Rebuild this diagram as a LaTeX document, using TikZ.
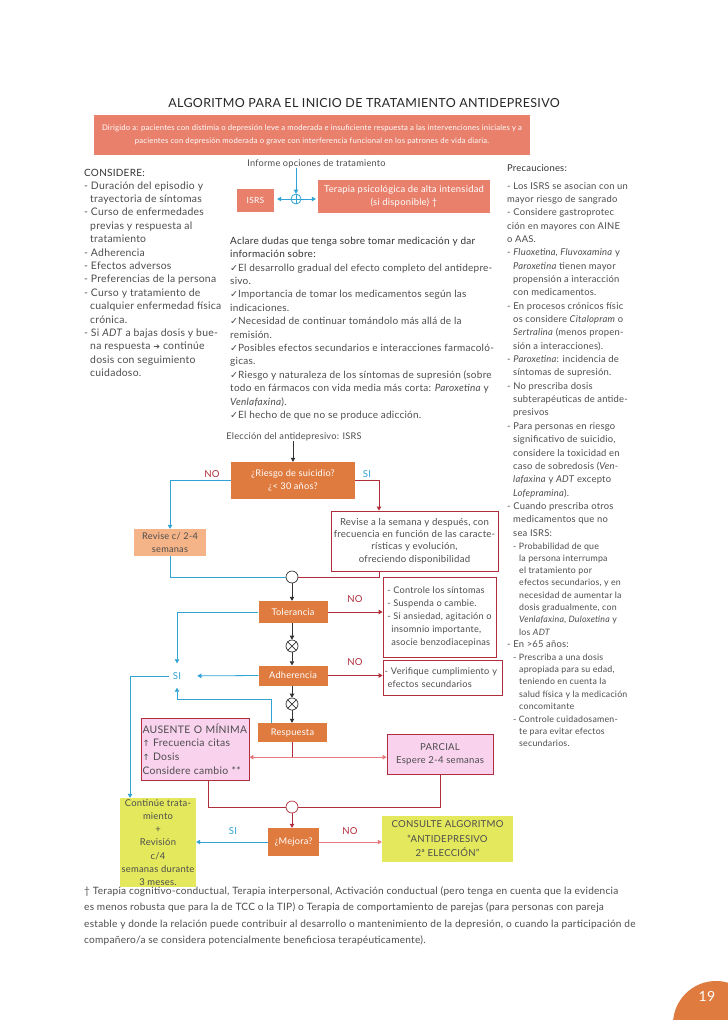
\documentclass[tikz,border=0pt]{standalone}
\usepackage{fontspec}
\setmainfont{Lato}[LetterSpace=2.5]
\newfontfamily\symf{DejaVu Sans}
\usetikzlibrary{arrows.meta}
\definecolor{txt}{HTML}{4D4D4D}
\definecolor{salmon}{HTML}{E8806C}
\definecolor{orng}{HTML}{DF7B3F}
\definecolor{lorng}{HTML}{F5B388}
\definecolor{bluel}{HTML}{2FA3D3}
\definecolor{dred}{HTML}{B02E3B}
\definecolor{redl}{HTML}{E8797C}
\definecolor{pinkf}{HTML}{F9D2EE}
\definecolor{limef}{HTML}{E3E85D}
\definecolor{grayl}{HTML}{333333}
\newcommand{\tb}[2]{\parbox[t]{#1}{\raggedright #2}}
\newcommand{\ck}{{\symf\fontsize{9.5}{9}\selectfont ✓}}
\newcommand{\upar}{{\symf\fontsize{8.5}{8}\selectfont ↑}}
\begin{document}
\begin{tikzpicture}[x=1pt,y=-1pt,
  every node/.style={text=txt},
  tip/.style={-{Triangle[length=4pt,width=4.5pt]}},
  body/.style={anchor=base west,inner sep=0pt,font=\fontsize{10}{13.4}\selectfont},
  rcol/.style={anchor=base west,inner sep=0pt,font=\fontsize{9.4}{13.35}\selectfont},
  small/.style={anchor=base west,inner sep=0pt,font=\fontsize{8.8}{12.3}\selectfont},
  obox/.style={rectangle,fill=orng,text=white,inner sep=0pt,align=center,font=\fontsize{9.2}{12.5}\selectfont},
  sbox/.style={rectangle,fill=salmon,text=white,inner sep=0pt,align=center,font=\fontsize{9.4}{12.5}\selectfont},
  rbox/.style={rectangle,draw=dred,line width=0.8pt,inner sep=1pt,align=center,font=\fontsize{9.6}{12.4}\selectfont},
  pbox/.style={rbox,fill=pinkf},
  gbox/.style={rectangle,fill=limef,inner sep=0pt,align=center,font=\fontsize{9.4}{13.3}\selectfont},
  lab/.style={inner sep=0pt,font=\fontsize{9.6}{11}\selectfont},
  bl/.style={draw=bluel,line width=0.8pt},
  rd/.style={draw=dred,line width=0.8pt},
  rl/.style={draw=redl,line width=0.8pt},
  bk/.style={draw=grayl,line width=0.7pt},
  circ/.style={circle,draw=grayl,fill=white,line width=0.7pt,minimum size=12pt,inner sep=0pt},
]
\useasboundingbox (0,0) rectangle (728,1020);
\fill[white] (0,0) rectangle (728,1020);

% title and banner
\node[inner sep=0pt,text=black!85,font=\fontsize{12.5}{13}\selectfont] (title) at (364,103) {ALGORITMO PARA EL INICIO DE TRATAMIENTO ANTIDEPRESIVO};
\node[fill=salmon,text=white,minimum width=436,minimum height=40,inner sep=0pt,align=center,font=\fontsize{7.7}{13}\selectfont] (banner) at (312,135)
 {Dirigido a: pacientes con distimia o depresión leve a moderada e insuficiente respuesta a las intervenciones iniciales y a\\
 pacientes con depresión moderada o grave con interferencia funcional en los patrones de vida diaria.};

% left column
\node[body,text=black!80] (consh) at (84,176) {CONSIDERE:};
\node[body,font=\fontsize{10.4}{13.4}\selectfont] (cons) at (84,189) {\tb{150pt}{%
- Duración del episodio y\\
\hspace*{6pt}trayectoria de síntomas\\
- Curso de enfermedades\\
\hspace*{6pt}previas y respuesta al\\
\hspace*{6pt}tratamiento\\
- Adherencia\\
- Efectos adversos\\
- Preferencias de la persona\\
- Curso y tratamiento de\\
\hspace*{6pt}cualquier enfermedad física\\
\hspace*{6pt}crónica.\\
- Si \textit{ADT} a bajas dosis y bue-\\
\hspace*{6pt}na respuesta {\symf\fontsize{8}{8}\selectfont ➔} continúe\\
\hspace*{6pt}dosis con seguimiento\\
\hspace*{6pt}cuidadoso.}};

% top middle
\node[inner sep=0pt,font=\fontsize{9.2}{11}\selectfont] (inf) at (316.5,164) {Informe opciones de tratamiento};
\node[circle,draw=bluel,line width=0.8pt,minimum size=10pt,inner sep=0pt] (plus) at (296,199) {};
\draw[bluel,line width=0.8pt] (plus.north) -- (plus.south) (plus.west) -- (plus.east);
\node[sbox,minimum width=37,minimum height=23,font=\fontsize{8.5}{10}\selectfont] (isrs) at (255.5,200.5) {ISRS};
\node[sbox,minimum width=172,minimum height=33] (terap) at (404,196.5) {Terapia psicológica de alta intensidad\\(si disponible) †};
\draw[bl,tip] (inf.south -| plus) -- (plus.north);
\draw[bl,tip,shorten >=3pt] (plus.west) -- (plus.west -| isrs.east);
\draw[bl,tip,shorten >=2pt] (plus.east) -- (plus.east -| terap.west);

\node[body] (acl) at (230,237) {\tb{290pt}{%
{\color{black!80}Aclare dudas que tenga sobre tomar medicación y dar}\\
{\color{black!80}información sobre:}\\
\ck El desarrollo gradual del efecto completo del antidepre-\\
sivo.\\
\ck Importancia de tomar los medicamentos según las\\
indicaciones.\\
\ck Necesidad de continuar tomándolo más allá de la\\
remisión.\\
\ck Posibles efectos secundarios e interacciones farmacoló-\\
gicas.\\
\ck Riesgo y naturaleza de los síntomas de supresión (sobre\\
todo en fármacos con vida media más corta: \textit{Paroxetina} y\\
\textit{Venlafaxina}).\\
\ck El hecho de que no se produce adicción.}};

% right column
\node[rcol,text=black!80] (prech) at (507,171) {Precauciones:};
\node[rcol] (prec) at (507,189) {\tb{220pt}{%
- Los ISRS se asocian con un\\
mayor riesgo de sangrado\\
- Considere gastroprotec\\
ción en mayores con AINE\\
o AAS.\\
- \textit{Fluoxetina, Fluvoxamina} y\\
\hspace*{6pt}\textit{Paroxetina} tienen mayor\\
\hspace*{6pt}propensión a interacción\\
\hspace*{6pt}con medicamentos.\\
- En procesos crónicos físic\\
\hspace*{6pt}os considere \textit{Citalopram} o\\
\hspace*{6pt}\textit{Sertralina} (menos propen-\\
\hspace*{6pt}sión a interacciones).\\
- \textit{Paroxetina}: incidencia de\\
\hspace*{6pt}síntomas de supresión.\\
- No prescriba dosis\\
\hspace*{6pt}subterapéuticas de antide-\\
\hspace*{6pt}presivos\\
- Para personas en riesgo\\
\hspace*{6pt}significativo de suicidio,\\
\hspace*{6pt}considere la toxicidad en\\
\hspace*{6pt}caso de sobredosis (\textit{Ven-}\\
\hspace*{6pt}\textit{lafaxina} y \textit{ADT} excepto\\
\hspace*{6pt}\textit{Lofepramina}).\\
- Cuando prescriba otros\\
\hspace*{6pt}medicamentos que no\\
\hspace*{6pt}sea ISRS:}};
\node[small] (prec2) at (513,549) {\tb{220pt}{%
- Probabilidad de que\\
\hspace*{6pt}la persona interrumpa\\
\hspace*{6pt}el tratamiento por\\
\hspace*{6pt}efectos secundarios, y en\\
\hspace*{6pt}necesidad de aumentar la\\
\hspace*{6pt}dosis gradualmente, con\\
\hspace*{6pt}\textit{Venlafaxina}, \textit{Duloxetina} y\\
\hspace*{6pt}los \textit{ADT}}};
\node[rcol] (prec3) at (507,647) {- En >65 años:};
\node[small,font=\fontsize{8.8}{12.4}\selectfont] (prec4) at (513,660) {\tb{220pt}{%
- Prescriba a una dosis\\
\hspace*{6pt}apropiada para su edad,\\
\hspace*{6pt}teniendo en cuenta la\\
\hspace*{6pt}salud física y la medicación\\
\hspace*{6pt}concomitante\\
- Controle cuidadosamen-\\
\hspace*{6pt}te para evitar efectos\\
\hspace*{6pt}secundarios.}};

% flowchart
\node[inner sep=0pt,font=\fontsize{9.2}{11}\selectfont] (elec) at (294,437) {Elección del antidepresivo: ISRS};
\node[obox,minimum width=124,minimum height=37] (riesgo) at (293,480.5) {¿Riesgo de suicidio?\\¿< 30 años?};
\draw[bk,tip] (elec.south -| riesgo.north) -- (riesgo.north);
\node[lab,text=dred] (no1) at (212,474) {NO};
\node[lab,text=bluel] (si1) at (367,474) {SI};
\node[rectangle,fill=lorng,inner sep=0pt,minimum width=72,minimum height=27,align=center,font=\fontsize{9.2}{12.4}\selectfont] (rev1) at (170,542.5) {Revise c/ 2-4\\semanas};
\node[rbox,minimum width=167,minimum height=60] (rev2) at (414.5,541) {Revise a la semana y después, con\\frecuencia en función de las caracte-\\rísticas y evolución,\\ofreciendo disponibilidad};
\draw[bl,tip] (riesgo.west) -| (rev1.north);
\draw[rd,tip] (riesgo.east) -| ([xshift=-35.5pt]rev2.north);
\node[circ] (c1) at (292,577) {};
\draw[bl] (rev1.south) |- (c1.west);
\draw[rd] ([xshift=-35.5pt]rev2.south) |- (c1.east);

\node[obox,minimum width=69,minimum height=22] (tol) at (293,612) {Tolerancia};
\draw[bk,tip] (c1.south) -- (tol.north -| c1);
\node[circ] (x1) at (292,646) {};
\draw[grayl,line width=0.7pt] (x1.north west) -- (x1.south east) (x1.north east) -- (x1.south west);
\draw[bk,tip] (tol.south -| x1) -- (x1.north);
\node[obox,minimum width=69,minimum height=20] (adh) at (293,675.5) {Adherencia};
\draw[bk,tip] (x1.south) -- (adh.north -| x1);
\node[circ] (x2) at (292,704) {};
\draw[grayl,line width=0.7pt] (x2.north west) -- (x2.south east) (x2.north east) -- (x2.south west);
\draw[bk,tip] (adh.south -| x2) -- (x2.north);
\node[obox,minimum width=69,minimum height=19] (resp) at (292.5,732.5) {Respuesta};
\draw[bk,tip] (x2.south) -- (resp.north -| x2);

\node[lab,text=dred] (no2) at (355,599) {NO};
\node[lab,text=dred] (no3) at (355,662) {NO};
\node[rbox,minimum width=113,minimum height=80,align=left,font=\fontsize{9.2}{13.1}\selectfont] (ctrl) at (439.5,617)
 {- Controle los síntomas\\- Suspenda o cambie.\\- Si ansiedad, agitación o\\\hspace*{4pt}insomnio importante,\\\hspace*{4pt}asocie benzodiacepinas};
\node[rbox,minimum width=119,minimum height=35,align=left,text width=116,font=\fontsize{9.2}{13}\selectfont] (verif) at (442.5,677.5)
 {- Verifique cumplimiento y\\\hspace*{3pt}efectos secundarios};
\draw[rd,tip] (tol.east) -- (tol.east -| ctrl.west);
\draw[rd,tip] (adh.east) -- (adh.east -| verif.west);

\node[lab,text=bluel] (si2) at (177,676) {SI};
\draw[bl,tip,shorten >=9pt] (tol.west) -| (si2.north);
\draw[bl,tip,shorten >=16pt] (adh.west) -- (si2);
\draw[bl,tip,shorten >=8pt] ([xshift=-21.5pt]resp.north) -- ++(0,-23) -| (si2.south);

\node[pbox,minimum width=108,minimum height=62,align=left,text width=105,font=\fontsize{10.4}{13.8}\selectfont] (aus) at (195,749)
 {AUSENTE O MÍNIMA\\\upar\ Frecuencia citas\\\upar\ Dosis\\Considere cambio **};
\node[pbox,minimum width=106,minimum height=40,font=\fontsize{9.6}{13}\selectfont] (parc) at (440,754) {PARCIAL\\Espere 2-4 semanas};
\coordinate (j) at ([yshift=-15pt]resp.south);
\draw[rd] (resp.south) -- (j);
\draw[rl,tip] (j) -- (j -| aus.east);
\draw[rl,tip] (j) -- (j -| parc.west);
\node[circ,draw=dred] (c2) at (292,807) {};
\draw[rd] ([xshift=13pt]aus.south) |- (c2.west);
\draw[rd] (parc.south) |- (c2.east);

\node[obox,minimum width=51,minimum height=28] (mej) at (293.5,842) {¿Mejora?};
\draw[rd,tip] (c2.south) -- (mej.north -| c2);
\node[lab,text=bluel] (si3) at (233,831) {SI};
\node[lab,text=dred] (no4) at (350,831) {NO};
\node[gbox,minimum width=76,minimum height=89] (cont) at (158,842.5) {Continúe trata-\\miento\\+\\Revisión\\c/4\\semanas durante\\3 meses.};
\node[gbox,minimum width=131,minimum height=46,font=\fontsize{9.6}{14.5}\selectfont] (consu) at (447.5,839) {CONSULTE ALGORITMO\\“ANTIDEPRESIVO\\2ª ELECCIÓN”};
\draw[bl,tip] (mej.west) -- (mej.west -| cont.east);
\draw[rl,tip] (mej.east) -- (mej.east -| consu.west);
\draw[bl,tip] ([xshift=-4pt]si2.west) -| ([xshift=-28pt]cont.north);

% footnote
\node[body,font=\fontsize{10.1}{16.6}\selectfont] (foot) at (84,894) {\tb{640pt}{%
† Terapia cognitivo-conductual, Terapia interpersonal, Activación conductual (pero tenga en cuenta que la evidencia\\
es menos robusta que para la de TCC o la TIP) o Terapia de comportamiento de parejas (para personas con pareja\\
estable y donde la relación puede contribuir al desarrollo o mantenimiento de la depresión, o cuando la participación de\\
compañero/a se considera potencialmente beneficiosa terapéuticamente).}};

% page number
\begin{scope}
\clip (0,0) rectangle (728,1020);
\fill[orng] (716,1024) circle (43);
\end{scope}
\node[inner sep=0pt,text=white,font=\fontsize{14}{14}\selectfont] (pg) at (707,996) {19};
\end{tikzpicture}
\end{document}
